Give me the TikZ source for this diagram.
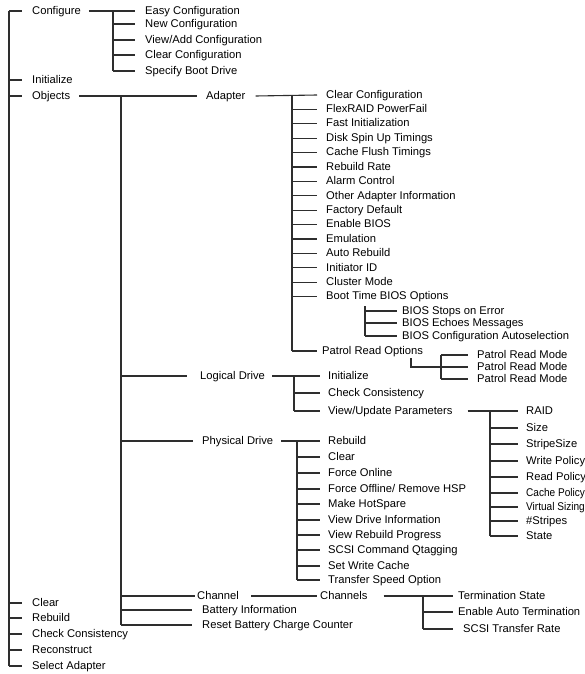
\documentclass[tikz,border=0pt]{standalone}
\usepackage{fontspec}
\setmainfont{Liberation Sans}
\begin{document}
\begin{tikzpicture}[x=1pt,y=-1pt,
  lbl/.style={anchor=west, inner sep=0pt, text height=6.4pt, text depth=0pt,
              font=\fontsize{11.2}{13}\selectfont},
  narrow/.style={xscale=0.9},
  wire/.style={line width=1.1pt, black!82}]
\useasboundingbox (0,0) rectangle (585,674);
\fill[white] (0,0) rectangle (585,674);
\clip (0,0) rectangle (585,674);

% ---------- top level menu ----------
\node[lbl] (cfg) at (32,11)  {Configure};
\node[lbl] (ini) at (32,80)  {Initialize};
\node[lbl] (obj) at (32,96)  {Objects};
\node[lbl] (clr) at (32,603) {Clear};
\node[lbl] (reb) at (32,618) {Rebuild};
\node[lbl] (chk) at (32,634) {Check Consistency};
\node[lbl] (rec) at (32,650) {Reconstruct};
\node[lbl] (sel) at (32,666) {Select Adapter};
\coordinate (rootbus) at (9,0);
\draw[wire] (rootbus |- cfg) -- (rootbus |- sel);
\foreach \n in {cfg,ini,obj,clr,reb,chk,rec,sel}
  \draw[wire] (rootbus |- \n) -- ([xshift=-10pt]\n.west);

% ---------- Configure ----------
\node[lbl] (c0) at (145,11) {Easy Configuration};
\node[lbl] (c1) at (145,24) {New Configuration};
\node[lbl] (c2) at (145,40) {View/Add Configuration};
\node[lbl] (c3) at (145,55) {Clear Configuration};
\node[lbl] (c4) at (145,71) {Specify Boot Drive};
\coordinate (cfgbus) at (113,0);
\draw[wire] ([xshift=8pt]cfg.east) -- ([xshift=-10pt]c0.west);
\draw[wire] (cfgbus |- c0) -- (cfgbus |- c4);
\foreach \n in {c1,c2,c3,c4}
  \draw[wire] (cfgbus |- \n) -- ([xshift=-10pt]\n.west);

% ---------- Objects ----------
\node[lbl] (adp)  at (206,96)  {Adapter};
\node[lbl] (logd) at (200,376) {Logical Drive};
\node[lbl] (phys) at (202,441) {Physical Drive};
\node[lbl] (chan) at (197,596) {Channel};
\node[lbl] (batt) at (202,610) {Battery Information};
\node[lbl] (rst)  at (202,625) {Reset Battery Charge Counter};
\coordinate (objbus) at (121,0);
\draw[wire] ([xshift=9pt]obj.east) -- ([xshift=-9pt]adp.west);
\draw[wire] (objbus |- adp) -- (objbus |- rst);
\foreach \n/\g in {logd/13,phys/9,chan/2,batt/10,rst/10}
  \draw[wire] (objbus |- \n) -- ([xshift=-\g pt]\n.west);

% ---------- Adapter ----------
\foreach \t [count=\i from 0] in {Clear Configuration,FlexRAID PowerFail,
    Fast Initialization,Disk Spin Up Timings,Cache Flush Timings,Rebuild Rate,
    Alarm Control,Other Adapter Information,Factory Default,Enable BIOS,
    Emulation,Auto Rebuild,Initiator ID,Cluster Mode,Boot Time BIOS Options}
  \node[lbl] (a\i) at (326,{95+14.4*\i}) {\t};
\node[lbl] (pro) at (322,351) {Patrol Read Options};
\coordinate (adpbus) at (292,0);
\coordinate (adptip) at (317,0);
\draw[wire] ([xshift=10pt]adp.east) -- (adptip |- a0);
\draw[wire] (adpbus |- a0) -- (adpbus |- pro);
\foreach \n in {a1,a2,a3,a4,a5,a6,a7,a8,a9,a10,a11,a12,a13,a14,pro}
  \draw[wire] (adpbus |- \n) -- (adptip |- \n);

% Boot time BIOS options
\node[lbl] (b0) at (402,311) {BIOS Stops on Error};
\node[lbl] (b1) at (402,323) {BIOS Echoes Messages};
\node[lbl] (b2) at (402,336) {BIOS Configuration Autoselection};
\coordinate (biosbus) at (365,306);
\coordinate (biostip) at (397,0);
\draw[wire] (biosbus) -- (biosbus |- b2);
\foreach \n in {b0,b1,b2}
  \draw[wire] (biosbus |- \n) -- (biostip |- \n);

% Patrol read options
\node[lbl] (pm0) at (477,355) {Patrol Read Mode};
\node[lbl] (pm1) at (477,367) {Patrol Read Mode};
\node[lbl] (pm2) at (477,379) {Patrol Read Mode};
\coordinate (prhook) at (411,358);
\coordinate (prbus) at (441,0);
\coordinate (prtip) at (468,0);
\draw[wire] (prhook) |- (prbus |- pm1);
\draw[wire] (prbus |- pm0) -- (prbus |- pm2);
\foreach \n in {pm0,pm1,pm2}
  \draw[wire] (prbus |- \n) -- (prtip |- \n);

% ---------- Logical Drive ----------
\node[lbl] (l0) at (328,376) {Initialize};
\node[lbl] (l1) at (328,393) {Check Consistency};
\node[lbl] (l2) at (328,411) {View/Update Parameters};
\coordinate (logbus) at (294,0);
\coordinate (logtip) at (320,0);
\draw[wire] ([xshift=7pt]logd.east) -- (logtip |- l0);
\draw[wire] (logbus |- l0) -- (logbus |- l2);
\foreach \n in {l1,l2}
  \draw[wire] (logbus |- \n) -- (logtip |- \n);

% View/Update parameters
\node[lbl] (v0) at (526,411) {RAID};
\node[lbl] (v1) at (526,428) {Size};
\node[lbl] (v2) at (526,444) {StripeSize};
\node[lbl] (v3) at (526,461) {Write Policy};
\node[lbl] (v4) at (526,477) {Read Policy};
\node[lbl,narrow] (v5) at (526,493) {Cache Policy};
\node[lbl,narrow] (v6) at (526,507) {Virtual Sizing};
\node[lbl] (v7) at (526,521) {\#Stripes};
\node[lbl] (v8) at (526,536) {State};
\coordinate (vbus) at (490,0);
\coordinate (vtip) at (518,0);
\draw[wire] ([xshift=15pt]l2.east) -- (vtip |- v0);
\draw[wire] (vbus |- v0) -- (vbus |- v8);
\foreach \n in {v1,v2,v3,v4,v5,v6,v7,v8}
  \draw[wire] (vbus |- \n) -- (vtip |- \n);

% ---------- Physical Drive ----------
\foreach \y/\t [count=\i from 0] in {441/{Rebuild},457/{Clear},473/{Force Online},
    489/{Force Offline/ Remove HSP},504/{Make HotSpare},520/{View Drive Information},
    535/{View Rebuild Progress},550/{SCSI Command Qtagging},566/{Set Write Cache},
    580/{Transfer Speed Option}}
  \node[lbl] (p\i) at (328,\y) {\t};
\coordinate (pbus) at (297,0);
\coordinate (ptip) at (320,0);
\draw[wire] ([xshift=8pt]phys.east) -- (ptip |- p0);
\draw[wire] (pbus |- p0) -- (pbus |- p9);
\foreach \n in {p1,p2,p3,p4,p5,p6,p7,p8,p9}
  \draw[wire] (pbus |- \n) -- (ptip |- \n);

% ---------- Channel ----------
\node[lbl] (chs) at (320,596) {Channels};
\draw[wire] ([xshift=12pt]chan.east) -- ([xshift=-3pt]chs.west);
\node[lbl] (t0) at (458,596) {Termination State};
\node[lbl] (t1) at (458,612) {Enable Auto Termination};
\node[lbl] (t2) at (463,629) {SCSI Transfer Rate};
\coordinate (cbus) at (423,0);
\coordinate (ctip) at (453,0);
\draw[wire] ([xshift=16pt]chs.east) -- (ctip |- t0);
\draw[wire] (cbus |- t0) -- (cbus |- t2);
\foreach \n in {t1,t2}
  \draw[wire] (cbus |- \n) -- (ctip |- \n);
\end{tikzpicture}
\end{document}
